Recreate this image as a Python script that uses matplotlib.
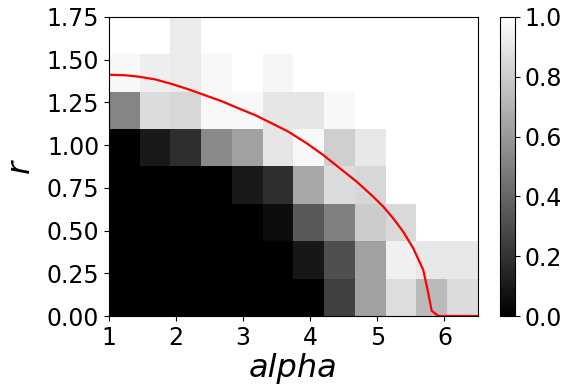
import numpy as np
import matplotlib
matplotlib.use("Agg")
import matplotlib.pyplot as plt

# heatmap values, rows from top (r high) to bottom (r low), 12 alpha columns
row_0 = [1.00, 1.00, 0.92, 1.00, 1.00, 1.00, 1.00, 1.00, 1.00, 1.00, 1.00, 1.00]
row_1 = [0.97, 0.93, 0.92, 0.97, 1.00, 0.96, 1.00, 1.00, 1.00, 1.00, 1.00, 1.00]
row_2 = [0.52, 0.86, 0.84, 0.97, 0.97, 0.90, 0.90, 0.97, 1.00, 1.00, 1.00, 1.00]
row_3 = [0.00, 0.10, 0.18, 0.54, 0.63, 0.90, 0.97, 0.81, 0.91, 1.00, 1.00, 1.00]
row_4 = [0.00, 0.00, 0.00, 0.00, 0.10, 0.18, 0.66, 0.86, 0.84, 1.00, 1.00, 1.00]
row_5 = [0.00, 0.00, 0.00, 0.00, 0.00, 0.05, 0.35, 0.50, 0.80, 0.85, 1.00, 1.00]
row_6 = [0.00, 0.00, 0.00, 0.00, 0.00, 0.00, 0.09, 0.31, 0.63, 0.94, 0.91, 0.91]
row_7 = [0.00, 0.00, 0.00, 0.00, 0.00, 0.00, 0.00, 0.25, 0.63, 0.87, 0.73, 0.86]

alpha_min, alpha_max = 1.0, 6.5
r_min, r_max = 0.0, 1.75

# red boundary curve
curve_alpha = [1.0, 1.238, 1.437, 1.686, 1.935, 2.182, 2.431, 2.680, 2.927, 3.176,
               3.425, 3.672, 3.946, 4.194, 4.443, 4.692, 4.939, 5.088, 5.237, 5.386,
               5.535, 5.684, 5.759, 5.809, 5.908, 6.5]
curve_r = [1.412, 1.409, 1.401, 1.385, 1.358, 1.327, 1.292, 1.257, 1.216, 1.176,
           1.128, 1.079, 1.011, 0.942, 0.864, 0.786, 0.698, 0.640, 0.571, 0.493,
           0.396, 0.269, 0.133, 0.031, 0.0, 0.0]

x_ticks = [1, 2, 3, 4, 5, 6]
y_ticks = [0.00, 0.25, 0.50, 0.75, 1.00, 1.25, 1.50, 1.75]
cbar_ticks = [0.0, 0.2, 0.4, 0.6, 0.8, 1.0]

grid = np.array([row_0, row_1, row_2, row_3, row_4, row_5, row_6, row_7])

fig = plt.figure(figsize=(5.66, 3.87), dpi=100)
W, H = 566, 387
ax = fig.add_axes([109 / W, 1 - 316 / H, (478 - 109) / W, (316 - 17) / H])
im = ax.imshow(grid, cmap="gray", vmin=0, vmax=1, origin="upper",
               extent=[alpha_min, alpha_max, r_min, r_max], aspect="auto",
               interpolation="nearest")
ax.plot(curve_alpha, curve_r, color="red", lw=1.6)
ax.set_xlim(alpha_min, alpha_max)
ax.set_ylim(r_min, r_max)
ax.set_xticks(x_ticks)
ax.set_yticks(y_ticks)
ax.set_yticklabels([f"{v:.2f}" for v in y_ticks])
ax.tick_params(labelsize=17)
ax.set_xlabel("alpha", fontsize=23, style="italic", labelpad=2)
ax.set_ylabel("r", fontsize=23, style="italic", labelpad=8)

cax = fig.add_axes([500 / W, 1 - 316 / H, 15 / W, (316 - 17) / H])
cb = fig.colorbar(im, cax=cax, ticks=cbar_ticks)
cb.ax.tick_params(labelsize=17)
cb.ax.set_yticklabels([f"{v:.1f}" for v in cbar_ticks])

fig.savefig("out.png", dpi=100)
